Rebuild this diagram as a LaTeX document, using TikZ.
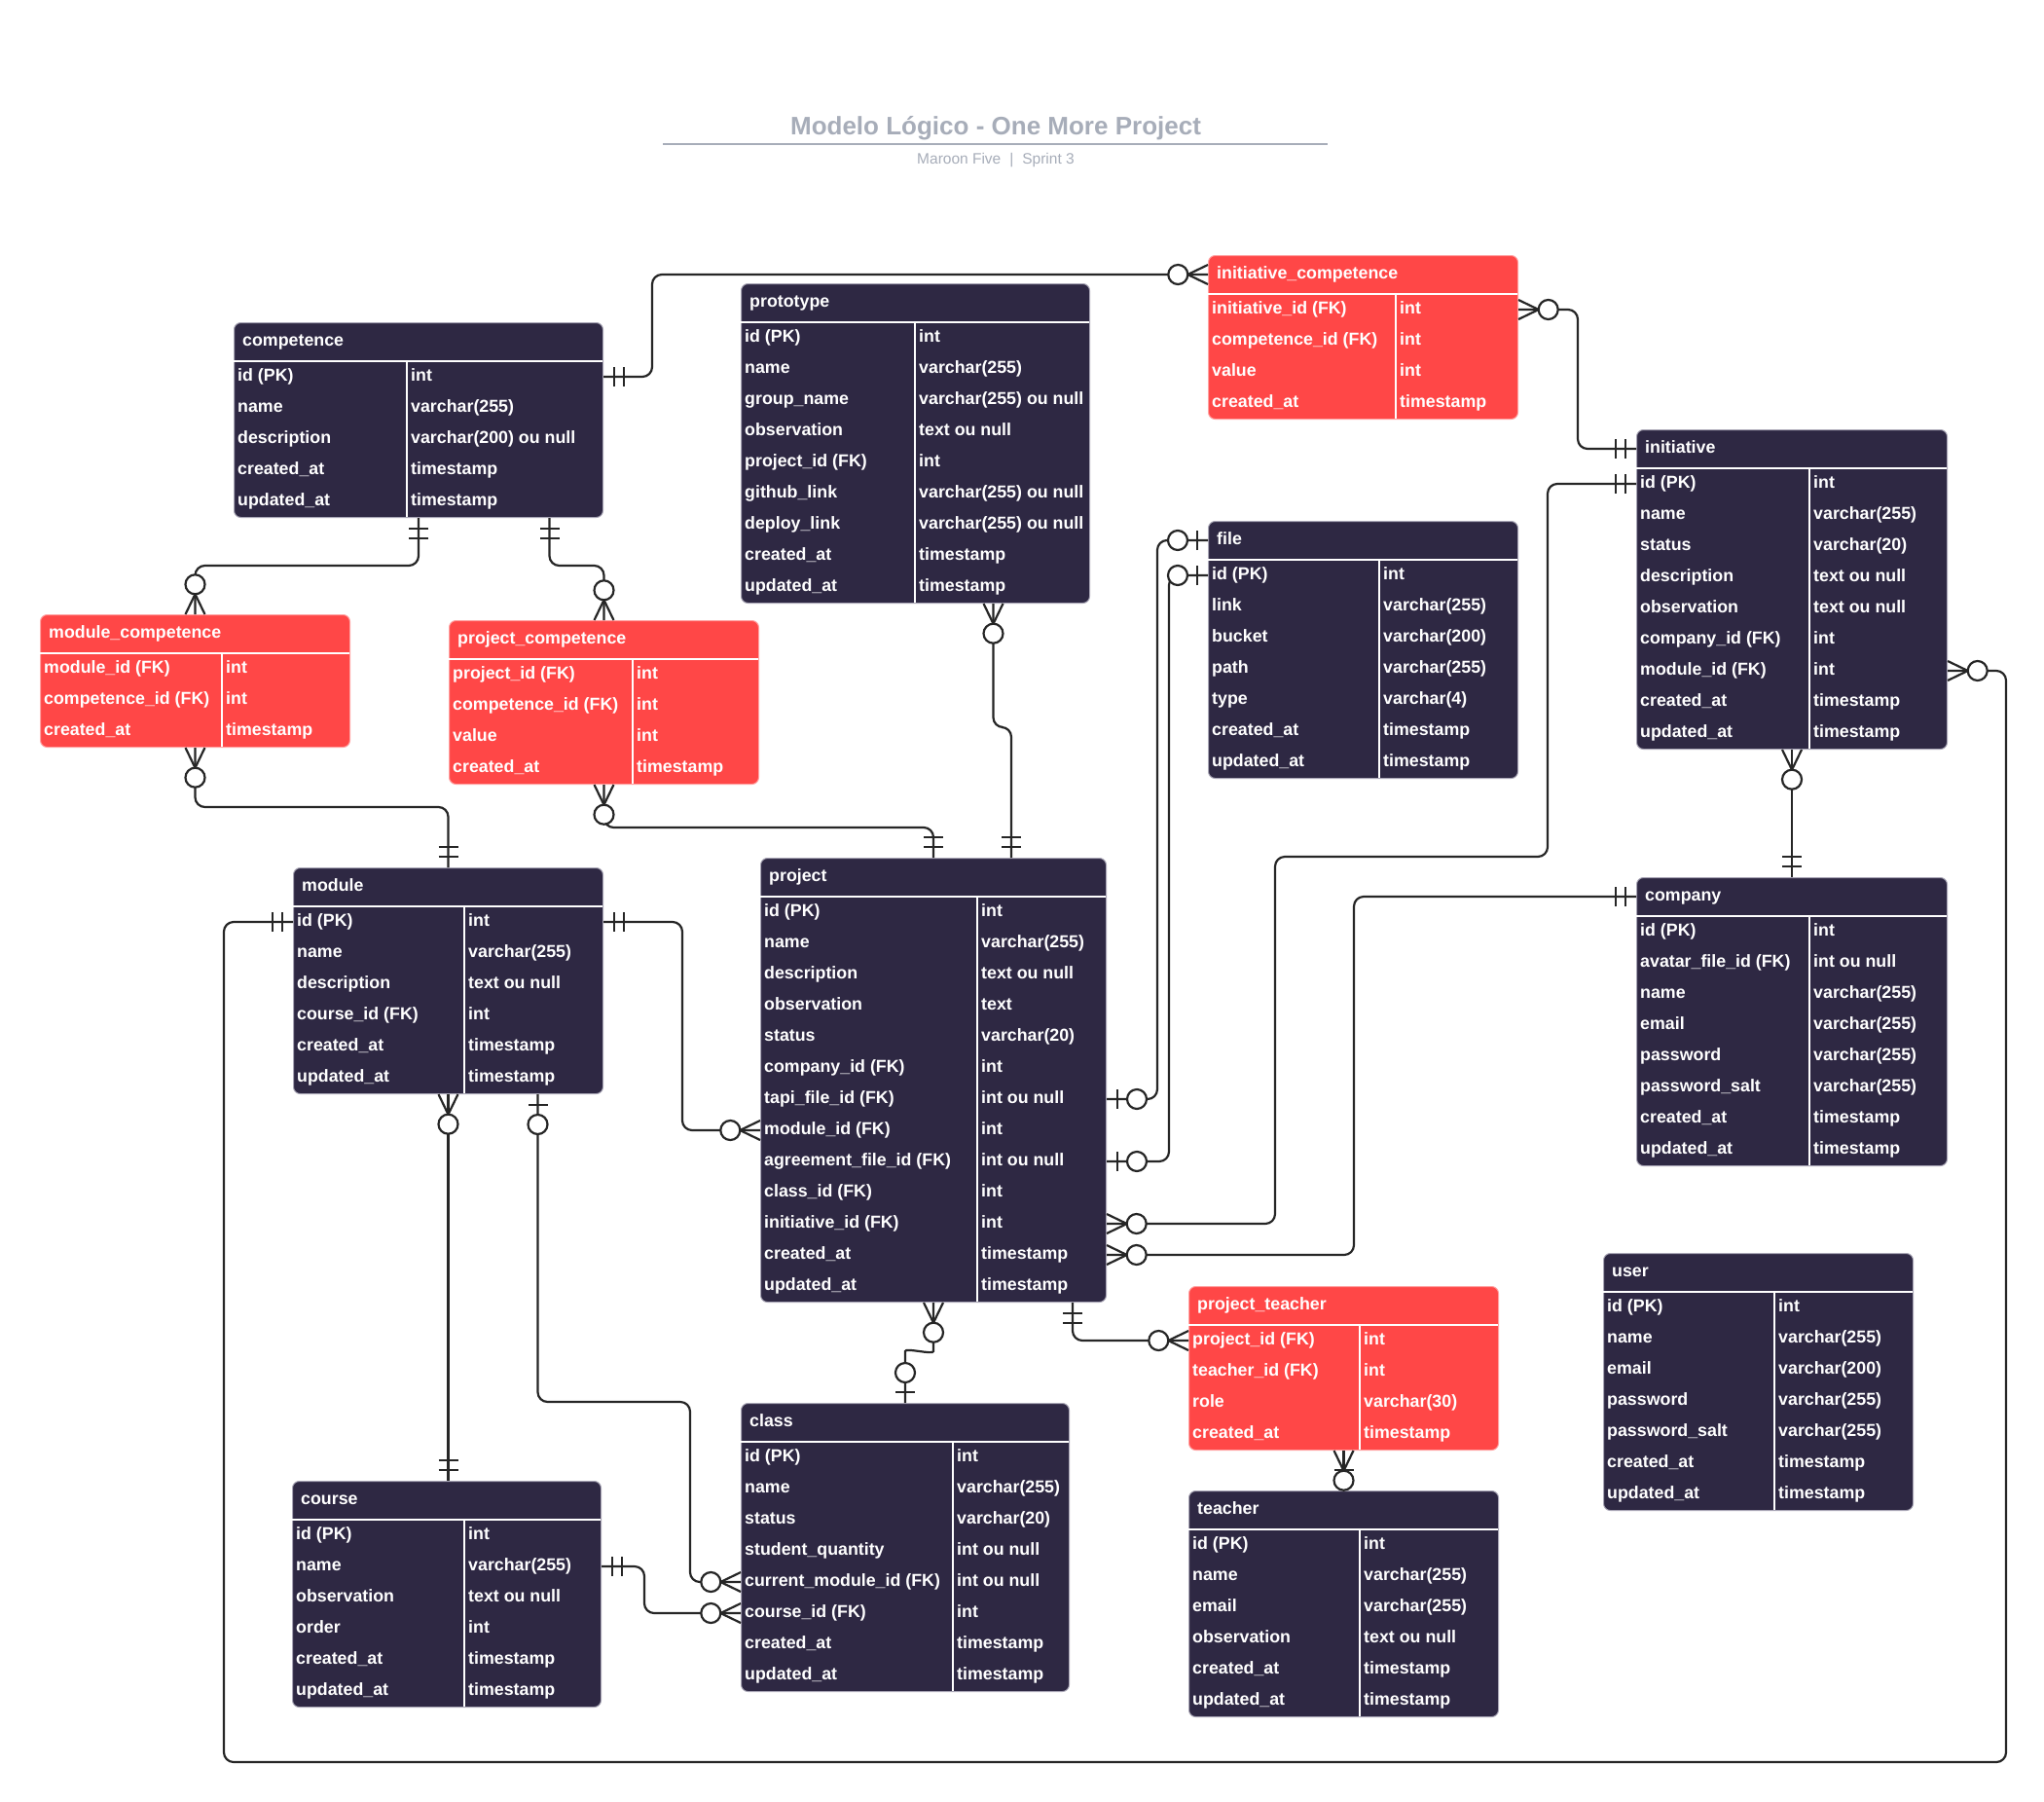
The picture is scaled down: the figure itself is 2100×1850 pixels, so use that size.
\documentclass[tikz,border=0pt]{standalone}
\usepackage{fontspec}
\setmainfont{Liberation Sans}
\definecolor{tdark}{HTML}{2E2843}
\definecolor{tred}{HTML}{FF4747}
\definecolor{tborderd}{HTML}{A9A6B6}
\definecolor{tborderr}{HTML}{FFA3A3}
\definecolor{linec}{HTML}{262626}
\definecolor{titlec}{HTML}{A7ADB9}
\tikzset{
  tbox/.style={line width=1pt, rounded corners=7pt, inner sep=0pt},
  ttext/.style={text=white, font=\bfseries\fontsize{17.8}{20}\selectfont, inner sep=0pt},
  sepline/.style={draw=white, line width=1.4pt},
  conn/.style={draw=linec, line width=2.2pt, rounded corners=10pt},
  mk/.style={draw=linec, line width=2.2pt},
  mkc/.style={draw=linec, line width=2.2pt, fill=white},
}
% #1 name, #2 left, #3 top, #4 right, #5 divider, #6 fill, #7 title, #8 nrows, #9 rows
\newcommand{\ertable}[9]{%
  \pgfmathsetmacro{\ertw}{#4-#2}%
  \pgfmathsetmacro{\erth}{40+32*#8}%
  \node[tbox, fill=#6, draw=#6border, minimum width=\ertw pt, minimum height=\erth pt, anchor=north west] (#1) at (#2,#3) {};
  \coordinate (#1-h) at (#2,#3+20);
  \draw[sepline] (#2,#3+40) -- (#4,#3+40);
  \draw[sepline] (#5,#3+40) -- (#5,#3+\erth);
  \node[ttext, anchor=base west] (#1-title) at (#2+9,#3+24) {#7};
  \foreach \a/\b [count=\i] in {#9} {
    \coordinate (#1-r\i) at (#2,#3+40+32*\i-16);
    \node[ttext, anchor=base west] (#1-n\i) at (#2+4,#3+40+32*\i-12) {\a};
    \node[ttext, anchor=base west] (#1-t\i) at (#5+4,#3+40+32*\i-12) {\b};
  }%
}
\colorlet{tdarkborder}{tborderd}
\colorlet{tredborder}{tborderr}
\newcommand{\erOne}[2]{\begin{scope}[shift={(#1)},rotate=#2]\draw[mk] (11,-10) -- (11,10) (21,-10) -- (21,10);\end{scope}}
\newcommand{\erZeroOne}[2]{\begin{scope}[shift={(#1)},rotate=#2]\draw[mk] (11,-10) -- (11,10);\draw[mkc] (31,0) circle[radius=10pt];\end{scope}}
\newcommand{\erMany}[2]{\begin{scope}[shift={(#1)},rotate=#2]\draw[mk] (0,-10) -- (20.7,0) -- (0,10);\draw[mkc] (30.7,0) circle[radius=10pt];\end{scope}}
\begin{document}
\begin{tikzpicture}[x=1pt,y=-1pt]
\fill[white] (0,0) rectangle (2100,1850);
\useasboundingbox (0,0) rectangle (2100,1850);

% title
\node[text=titlec, font=\bfseries\fontsize{26}{30}\selectfont, anchor=base, inner sep=0pt] (title) at (1023,138.3) {Modelo Lógico - One More Project};
\draw[titlec, line width=2pt] (681,148) -- (1364,148);
\node[text=titlec, font=\fontsize{15.5}{18}\selectfont, anchor=base, inner sep=0pt] (subtitle) at (1023,168.3) {Maroon Five\hspace{9pt}|\hspace{9pt}Sprint 3};

% tables
\ertable{competence}{240}{331}{619}{418}{tdark}{competence}{5}{id (PK)/int, name/varchar(255), description/varchar(200) ou null, created\_at/timestamp, updated\_at/timestamp}
\ertable{prototype}{761}{291}{1119}{940}{tdark}{prototype}{9}{id (PK)/int, name/varchar(255), group\_name/varchar(255) ou null, observation/text ou null, project\_id (FK)/int, github\_link/varchar(255) ou null, deploy\_link/varchar(255) ou null, created\_at/timestamp, updated\_at/timestamp}
\ertable{icomp}{1241}{262}{1559}{1434}{tred}{initiative\_competence}{4}{initiative\_id (FK)/int, competence\_id (FK)/int, value/int, created\_at/timestamp}
\ertable{initiative}{1681}{441}{2000}{1859}{tdark}{initiative}{9}{id (PK)/int, name/varchar(255), status/varchar(20), description/text ou null, observation/text ou null, company\_id (FK)/int, module\_id (FK)/int, created\_at/timestamp, updated\_at/timestamp}
\ertable{file}{1241}{535}{1559}{1417}{tdark}{file}{7}{id (PK)/int, link/varchar(255), bucket/varchar(200), path/varchar(255), type/varchar(4), created\_at/timestamp, updated\_at/timestamp}
\ertable{mcomp}{41}{631}{359}{228}{tred}{module\_competence}{3}{module\_id (FK)/int, competence\_id (FK)/int, created\_at/timestamp}
\ertable{pcomp}{461}{637}{779}{650}{tred}{project\_competence}{4}{project\_id (FK)/int, competence\_id (FK)/int, value/int, created\_at/timestamp}
\ertable{module}{301}{891}{619}{477}{tdark}{module}{6}{id (PK)/int, name/varchar(255), description/text ou null, course\_id (FK)/int, created\_at/timestamp, updated\_at/timestamp}
\ertable{project}{781}{881}{1136}{1004}{tdark}{project}{13}{id (PK)/int, name/varchar(255), description/text ou null, observation/text, status/varchar(20), company\_id (FK)/int, tapi\_file\_id (FK)/int ou null, module\_id (FK)/int, agreement\_file\_id (FK)/int ou null, class\_id (FK)/int, initiative\_id (FK)/int, created\_at/timestamp, updated\_at/timestamp}
\ertable{company}{1681}{901}{2000}{1859}{tdark}{company}{8}{id (PK)/int, avatar\_file\_id (FK)/int ou null, name/varchar(255), email/varchar(255), password/varchar(255), password\_salt/varchar(255), created\_at/timestamp, updated\_at/timestamp}
\ertable{course}{300}{1521}{617}{477}{tdark}{course}{6}{id (PK)/int, name/varchar(255), observation/text ou null, order/int, created\_at/timestamp, updated\_at/timestamp}
\ertable{class}{761}{1441}{1098}{979}{tdark}{class}{8}{id (PK)/int, name/varchar(255), status/varchar(20), student\_quantity/int ou null, current\_module\_id (FK)/int ou null, course\_id (FK)/int, created\_at/timestamp, updated\_at/timestamp}
\ertable{pteacher}{1221}{1321}{1539}{1397}{tred}{project\_teacher}{4}{project\_id (FK)/int, teacher\_id (FK)/int, role/varchar(30), created\_at/timestamp}
\ertable{teacher}{1221}{1531}{1539}{1397}{tdark}{teacher}{6}{id (PK)/int, name/varchar(255), email/varchar(255), observation/text ou null, created\_at/timestamp, updated\_at/timestamp}
\ertable{user}{1647}{1287}{1965}{1823}{tdark}{user}{7}{id (PK)/int, name/varchar(255), email/varchar(200), password/varchar(255), password\_salt/varchar(255), created\_at/timestamp, updated\_at/timestamp}

% connectors
\draw[conn] (competence.east |- competence-r1) -- ++(50,0) |- (icomp.west |- icomp-h);
\draw[conn] (icomp.east |- icomp-r1) -- ++(61,0) |- (initiative.west |- initiative-h);
\draw[conn] (initiative.west |- initiative-r1) -| (1590,880) -| (1310,1257) -- (project.east |- project-r11);
\draw[conn] (project.east |- project-r7) -- ++(52,0) |- (file.west |- file-h);
\draw[conn] (project.east |- project-r9) -- ++(64,0) |- (file.west |- file-r1);
\draw[conn] (project.east |- project-r12) -- ++(254,0) |- (company.west |- company-h);
\draw[conn] (initiative.south) -- (initiative.south |- company.north);
\draw[conn] (initiative.east |- initiative-r7) -- ++(60,0) |- (230,1810) |- (module.west |- module-r1);
\draw[conn] (competence.south) -- ++(0,49) -| (mcomp.north);
\draw[conn] ([xshift=134.5pt]competence.south) -- ++(0,49) -| (pcomp.north);
\draw[conn] (mcomp.south) -- ++(0,61) -| (module.north);
\draw[conn] (pcomp.south) -- ++(0,44) -| (project.north);
\draw[conn] ([xshift=80pt]prototype.south) -- ++(0,127) -| ([xshift=80pt]project.north);
\draw[conn] (module.east |- module-r1) -- ++(81,0) |- (project.west |- project-r8);
\draw[conn] (module.south) -- (module.south |- course.north);
\draw[conn] ([xshift=92pt]module.south) |- (709,1440) |- (class.west |- class-r5);
\draw[conn] (course.east |- course-r2) -- ++(44,0) |- (class.west |- class-r6);
\draw[conn] (project.south) -- ++(0,40) .. controls +(0,14) and +(0,-14) .. ([yshift=43pt]class.north) -- (class.north);
\draw[conn] ([xshift=143pt]project.south) |- (pteacher.west |- pteacher-r1);
\draw[conn] (pteacher.south) -- (teacher.north);

% end marks
\erOne{competence.east |- competence-r1}{0}
\erMany{icomp.west |- icomp-h}{180}
\erMany{icomp.east |- icomp-r1}{0}
\erOne{initiative.west |- initiative-h}{180}
\erOne{initiative.west |- initiative-r1}{180}
\erMany{project.east |- project-r11}{0}
\erZeroOne{project.east |- project-r7}{0}
\erZeroOne{file.west |- file-h}{180}
\erZeroOne{project.east |- project-r9}{0}
\erZeroOne{file.west |- file-r1}{180}
\erMany{project.east |- project-r12}{0}
\erOne{company.west |- company-h}{180}
\erMany{initiative.south}{-90}
\erOne{initiative.south |- company.north}{90}
\erMany{initiative.east |- initiative-r7}{0}
\erOne{module.west |- module-r1}{180}
\erOne{competence.south}{-90}
\erMany{mcomp.north}{90}
\erOne{[xshift=134.5pt]competence.south}{-90}
\erMany{pcomp.north}{90}
\erMany{mcomp.south}{-90}
\erOne{module.north}{90}
\erMany{pcomp.south}{-90}
\erOne{project.north}{90}
\erMany{[xshift=80pt]prototype.south}{-90}
\erOne{[xshift=80pt]project.north}{90}
\erOne{module.east |- module-r1}{0}
\erMany{project.west |- project-r8}{180}
\erMany{module.south}{-90}
\erOne{module.south |- course.north}{90}
\erZeroOne{[xshift=92pt]module.south}{-90}
\erMany{class.west |- class-r5}{180}
\erOne{course.east |- course-r2}{0}
\erMany{class.west |- class-r6}{180}
\erMany{project.south}{-90}
\erZeroOne{class.north}{90}
\erOne{[xshift=143pt]project.south}{-90}
\erMany{pteacher.west |- pteacher-r1}{180}
\erOne{teacher.north}{90}
\erMany{pteacher.south}{-90}
\end{tikzpicture}
\end{document}
